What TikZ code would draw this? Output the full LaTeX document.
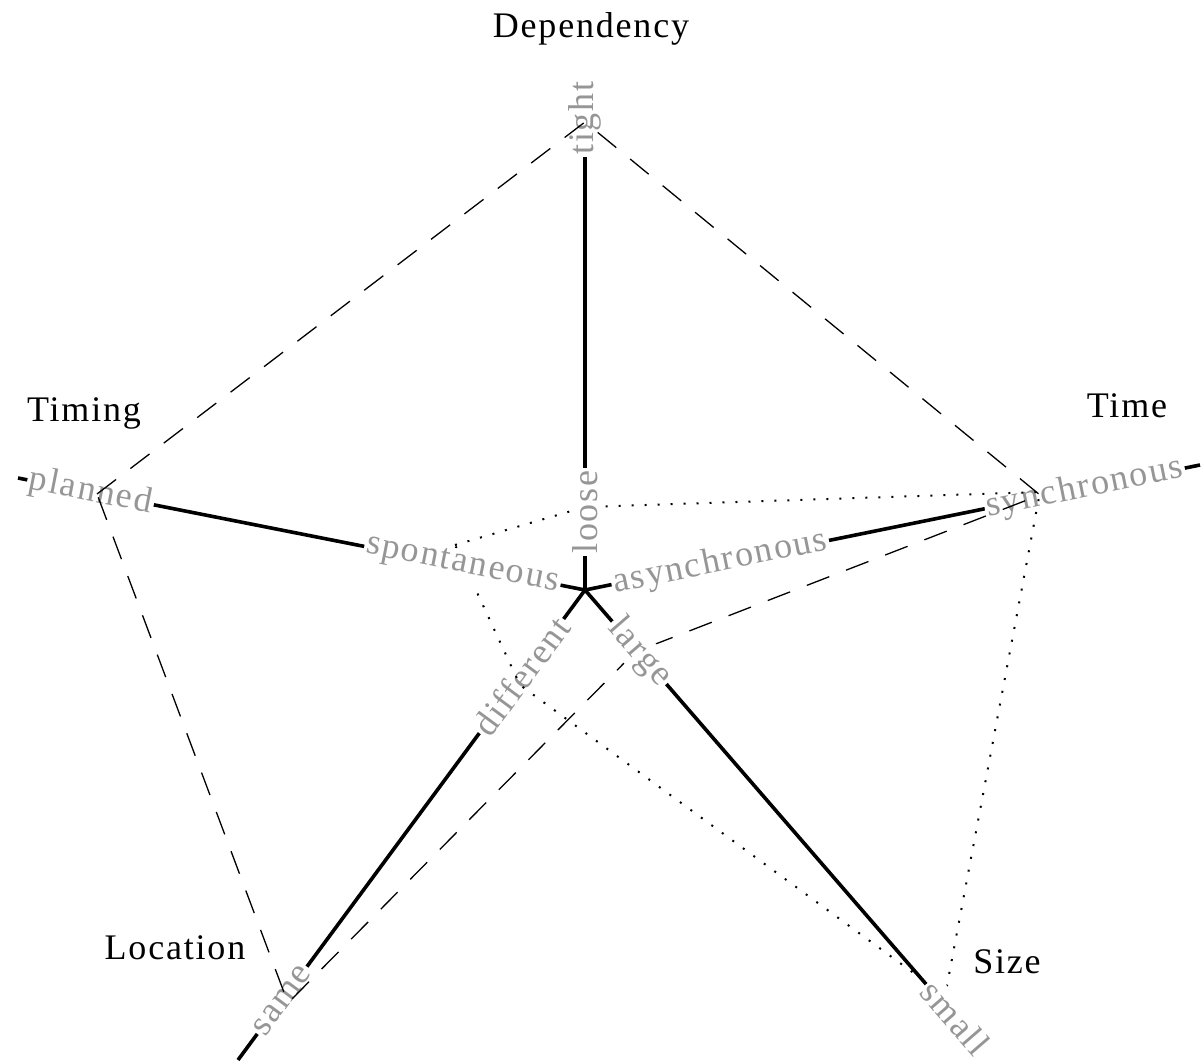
\documentclass[tikz,border=0pt]{standalone}
\usepackage{fontspec}
\setmainfont{Liberation Serif}[LetterSpace=5]
\usetikzlibrary{calc}
\definecolor{lblgray}{RGB}{150,150,150}
\begin{document}
\begin{tikzpicture}[x=1pt,y=-1pt,
  axisline/.style={line width=3.6pt},
  lbl/.style={text=lblgray, fill=white, inner sep=2pt, font=\fontsize{36}{40}\selectfont},
  ttl/.style={text=black, inner sep=0pt, font=\fontsize{36}{40}\selectfont},
  dashpoly/.style={line width=1.3pt, dash pattern=on 24pt off 18pt},
  dotpoly/.style={line width=2pt, dash pattern=on 2pt off 11pt}]
\useasboundingbox (0,0) rectangle (1201,1064);
% axes
\coordinate (C) at (585,590);
\coordinate (Edep) at (585,82);
\coordinate (Etime) at (1200,465);
\coordinate (Esize) at (990,1058);
\coordinate (EsizeEnd) at ($(C)!598pt!(Esize)$);
\coordinate (Eloc) at (238,1060);
\coordinate (Etiming) at (18,478);
\draw[axisline] (C) -- (Edep);
\draw[axisline] (C) -- (Etime);
\draw[axisline] (C) -- (EsizeEnd);
\draw[axisline] (C) -- (Eloc);
\draw[axisline] (C) -- (Etiming);
% labels crossed by the polygons
\node[lbl, rotate=90] (tight) at ($(C)!472pt!(Edep)$) {tight};
\node[lbl, rotate=11.49] (synchronous) at ($(C)!510pt!(Etime)$) {synchronous};
\node[lbl, rotate=11.49] (asynchronous) at ($(C)!138pt!(Etime)$) {asynchronous};
\node[lbl, rotate=-11.17] (planned) at ($(C)!504pt!(Etiming)$) {planned};
\node[lbl, rotate=53.56] (same) at ($(C)!510pt!(Eloc)$) {same};
\node[lbl, rotate=53.56] (different) at ($(C)!107pt!(Eloc)$) {different};
% polygon vertices
\coordinate (vPlanned) at (97,494);
\coordinate (vTight) at (585,122);
\coordinate (vSync) at (1040,495);
\coordinate (vLarge) at (635,652);
\coordinate (vSame) at (288,1003);
\coordinate (vSpont) at (455,545);
\coordinate (vLoose) at (585,507);
\coordinate (vSync2) at (1040,492);
\coordinate (vSmall) at (945,996);
\coordinate (vDiff) at (520,685);
\draw[dashpoly] (vPlanned) -- (vTight) -- (vSync) -- (vLarge) -- (vSame) -- cycle;
\draw[dotpoly] (vSpont) -- (vLoose) -- (vSync2) -- (vSmall) -- (vDiff) -- cycle;
% labels hiding the polygons
\node[lbl, rotate=90] (loose) at ($(C)!78pt!(Edep)$) {loose};
\node[lbl, rotate=-11.17] (spontaneous) at ($(C)!125pt!(Etiming)$) {spontaneous};
\node[lbl, rotate=-49.1] (large) at ($(C)!83pt!(Esize)$) {large};
\node[lbl, rotate=-49.1] (small) at ($(C)!566pt!(Esize)$) {small};
% titles
\node[ttl] (tDep) at (591,29) {Dependency};
\node[ttl] (tTiming) at (84,413) {Timing};
\node[ttl] (tTime) at (1127,406) {Time};
\node[ttl] (tLoc) at (175,948) {Location};
\node[ttl] (tSize) at (1007,962) {Size};
\end{tikzpicture}
\end{document}
